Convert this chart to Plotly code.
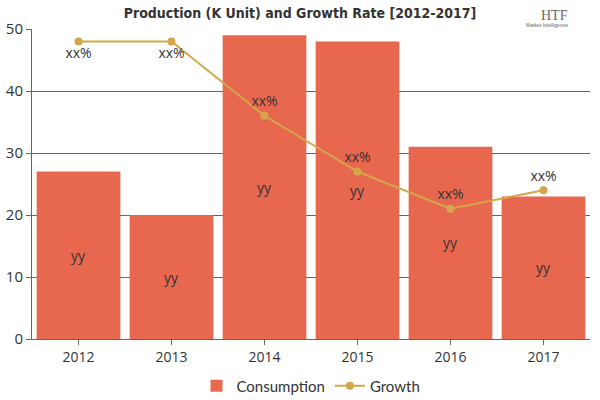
import plotly.graph_objects as go

years = ["2012", "2013", "2014", "2015", "2016", "2017"]
consumption = [27, 20, 49, 48, 31, 23]
growth = [48, 48, 36, 27, 21, 24]
bar_labels = ["yy"] * 6
growth_labels = ["xx%"] * 6
growth_label_pos = ["bottom center", "bottom center", "top center", "top center", "top center", "top center"]

fig = go.Figure()
fig.add_trace(go.Bar(
    x=years, y=consumption, name="Consumption",
    marker=dict(color="#E8684F", line=dict(width=0)),
    text=bar_labels, textposition="inside", insidetextanchor="middle",
    textfont=dict(color="#333333", size=14, family="Open Sans, sans-serif"),
    width=0.9,
))
fig.add_trace(go.Scatter(
    x=years, y=growth, name="Growth", mode="lines+markers+text",
    line=dict(color="#D4A64A", width=2),
    marker=dict(color="#D4A64A", size=8),
    text=growth_labels, textposition=growth_label_pos,
    textfont=dict(color="#333333", size=14, family="Open Sans, sans-serif"),
))

fig.update_layout(
    width=600, height=400,
    margin=dict(l=32, r=10, t=29, b=61, autoexpand=False),
    paper_bgcolor="white", plot_bgcolor="white",
    title=dict(text="<b>Production (K Unit) and Growth Rate [2012-2017]</b>",
               x=0.5, xanchor="center", y=0.968, yanchor="middle",
               font=dict(family="DejaVu Sans Condensed, Liberation Sans Narrow, sans-serif", size=14, color="#333333")),
    showlegend=True,
    legend=dict(orientation="h", x=0.5, xanchor="center", yref="container", y=0.035, yanchor="middle",
                font=dict(family="Lato, sans-serif", size=15, color="#333333")),
    bargap=0.1,
    xaxis=dict(showline=True, linecolor="#666666", linewidth=1, ticks="outside", ticklen=5,
               tickcolor="#666666", tickfont=dict(size=14, color="#333333", family="Open Sans, sans-serif")),
    yaxis=dict(range=[0, 50], dtick=10, showgrid=True, gridcolor="#666666", gridwidth=1,
               showline=True, linecolor="#666666", linewidth=1, ticks="outside", ticklen=5,
               tickcolor="#666666", zeroline=False,
               tickfont=dict(size=15, color="#333333", family="Open Sans, sans-serif")),
    font=dict(family="Open Sans, sans-serif"),
)

fig.add_annotation(text="HTF", xref="paper", yref="paper", x=0.965, y=1.075, showarrow=False,
                   font=dict(family="Liberation Serif, serif", size=14, color="#666666"))
fig.add_annotation(text="Market Intelligence", xref="paper", yref="paper", x=0.965, y=1.03, showarrow=False,
                   font=dict(family="Liberation Sans, sans-serif", size=5, color="#666666"))

fig.write_html("out.html")
